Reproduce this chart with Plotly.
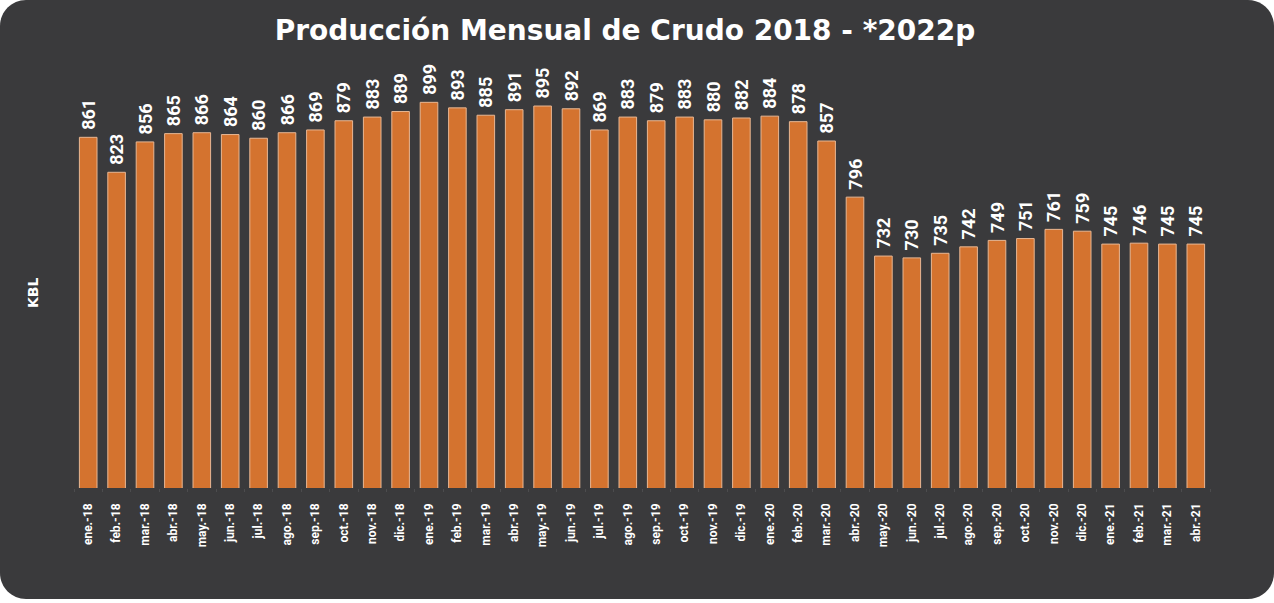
import plotly.graph_objects as go

months = ["ene.", "feb.", "mar.", "abr.", "may.", "jun.", "jul.", "ago.", "sep.", "oct.", "nov.", "dic."]
categories = [f"{m}-{y}" for y in ["18", "19", "20"] for m in months] + ["ene.-21", "feb.-21", "mar.-21", "abr.-21"]
values = [861, 823, 856, 865, 866, 864, 860, 866, 869, 879, 883, 889,
          899, 893, 885, 891, 895, 892, 869, 883, 879, 883, 880, 882,
          884, 878, 857, 796, 732, 730, 735, 742, 749, 751, 761, 759,
          745, 746, 745, 745]
title_text = "Producción Mensual de Crudo 2018 - *2022p"
y_title = "KBL"

W, H = 1274, 603
ML, MR, MT, MB = 74, 64, 60, 115
PW, PH = W - ML - MR, H - MT - MB

def px(x):
    return (x - ML) / PW

def py(y):
    return (H - MB - y) / PH

def rounded_rect(x0, y0, x1, y1, r):
    k = 0.5523 * r
    pts = []
    pts.append(f"M {px(x0 + r)},{py(y0)}")
    pts.append(f"L {px(x1 - r)},{py(y0)}")
    pts.append(f"C {px(x1 - r + k)},{py(y0)} {px(x1)},{py(y0 + r - k)} {px(x1)},{py(y0 + r)}")
    pts.append(f"L {px(x1)},{py(y1 - r)}")
    pts.append(f"C {px(x1)},{py(y1 - r + k)} {px(x1 - r + k)},{py(y1)} {px(x1 - r)},{py(y1)}")
    pts.append(f"L {px(x0 + r)},{py(y1)}")
    pts.append(f"C {px(x0 + r - k)},{py(y1)} {px(x0)},{py(y1 - r + k)} {px(x0)},{py(y1 - r)}")
    pts.append(f"L {px(x0)},{py(y0 + r)}")
    pts.append(f"C {px(x0)},{py(y0 + r - k)} {px(x0 + r - k)},{py(y0)} {px(x0 + r)},{py(y0)}")
    pts.append("Z")
    return " ".join(pts)

narrow = "Liberation Sans Narrow, Roboto, Arial Narrow, sans-serif"

fig = go.Figure(go.Bar(
    x=categories, y=values,
    marker=dict(color="#d4732f", line=dict(color="#e8b793", width=1)),
    text=values, texttemplate="\u00a0%{y}", textposition="outside",
    textangle=-90, cliponaxis=False, constraintext="none",
    textfont=dict(family=narrow, size=18, color="white", weight="bold"),
    hoverinfo="skip",
))

fig.add_shape(type="path", xref="paper", yref="paper",
              path=rounded_rect(0, 0, W, 599, 26),
              fillcolor="#3a3a3c", line=dict(width=0), layer="below")

fig.add_annotation(text=y_title, xref="paper", yref="paper",
                   x=px(33), y=py(293), xanchor="center", yanchor="middle",
                   textangle=-90, showarrow=False,
                   font=dict(family="DejaVu Sans, sans-serif", size=14, color="white", weight="bold"))

fig.update_layout(
    width=W, height=H,
    margin=dict(l=ML, r=MR, t=MT, b=MB),
    paper_bgcolor="white", plot_bgcolor="rgba(0,0,0,0)",
    title=dict(text=title_text, x=625 / W, xref="container", xanchor="center",
               y=1 - 30 / H, yanchor="middle",
               font=dict(family="DejaVu Sans, sans-serif", size=28, color="white", weight="bold")),
    bargap=0.38,
    showlegend=False,
    xaxis=dict(type="category", tickangle=-90, showgrid=False, showline=False,
               tickson="boundaries", ticks="outside", ticklen=3, tickcolor="#4c4c4e",
               ticklabelstandoff=12,
               tickfont=dict(family=narrow, size=12, color="white", weight="bold")),
    yaxis=dict(range=[480, 945], showgrid=False, showticklabels=False, zeroline=False,
               showline=False, ticks=""),
)

fig.write_html("out.html", config={"displayModeBar": False},
               post_script="document.body.style.margin='0';")
